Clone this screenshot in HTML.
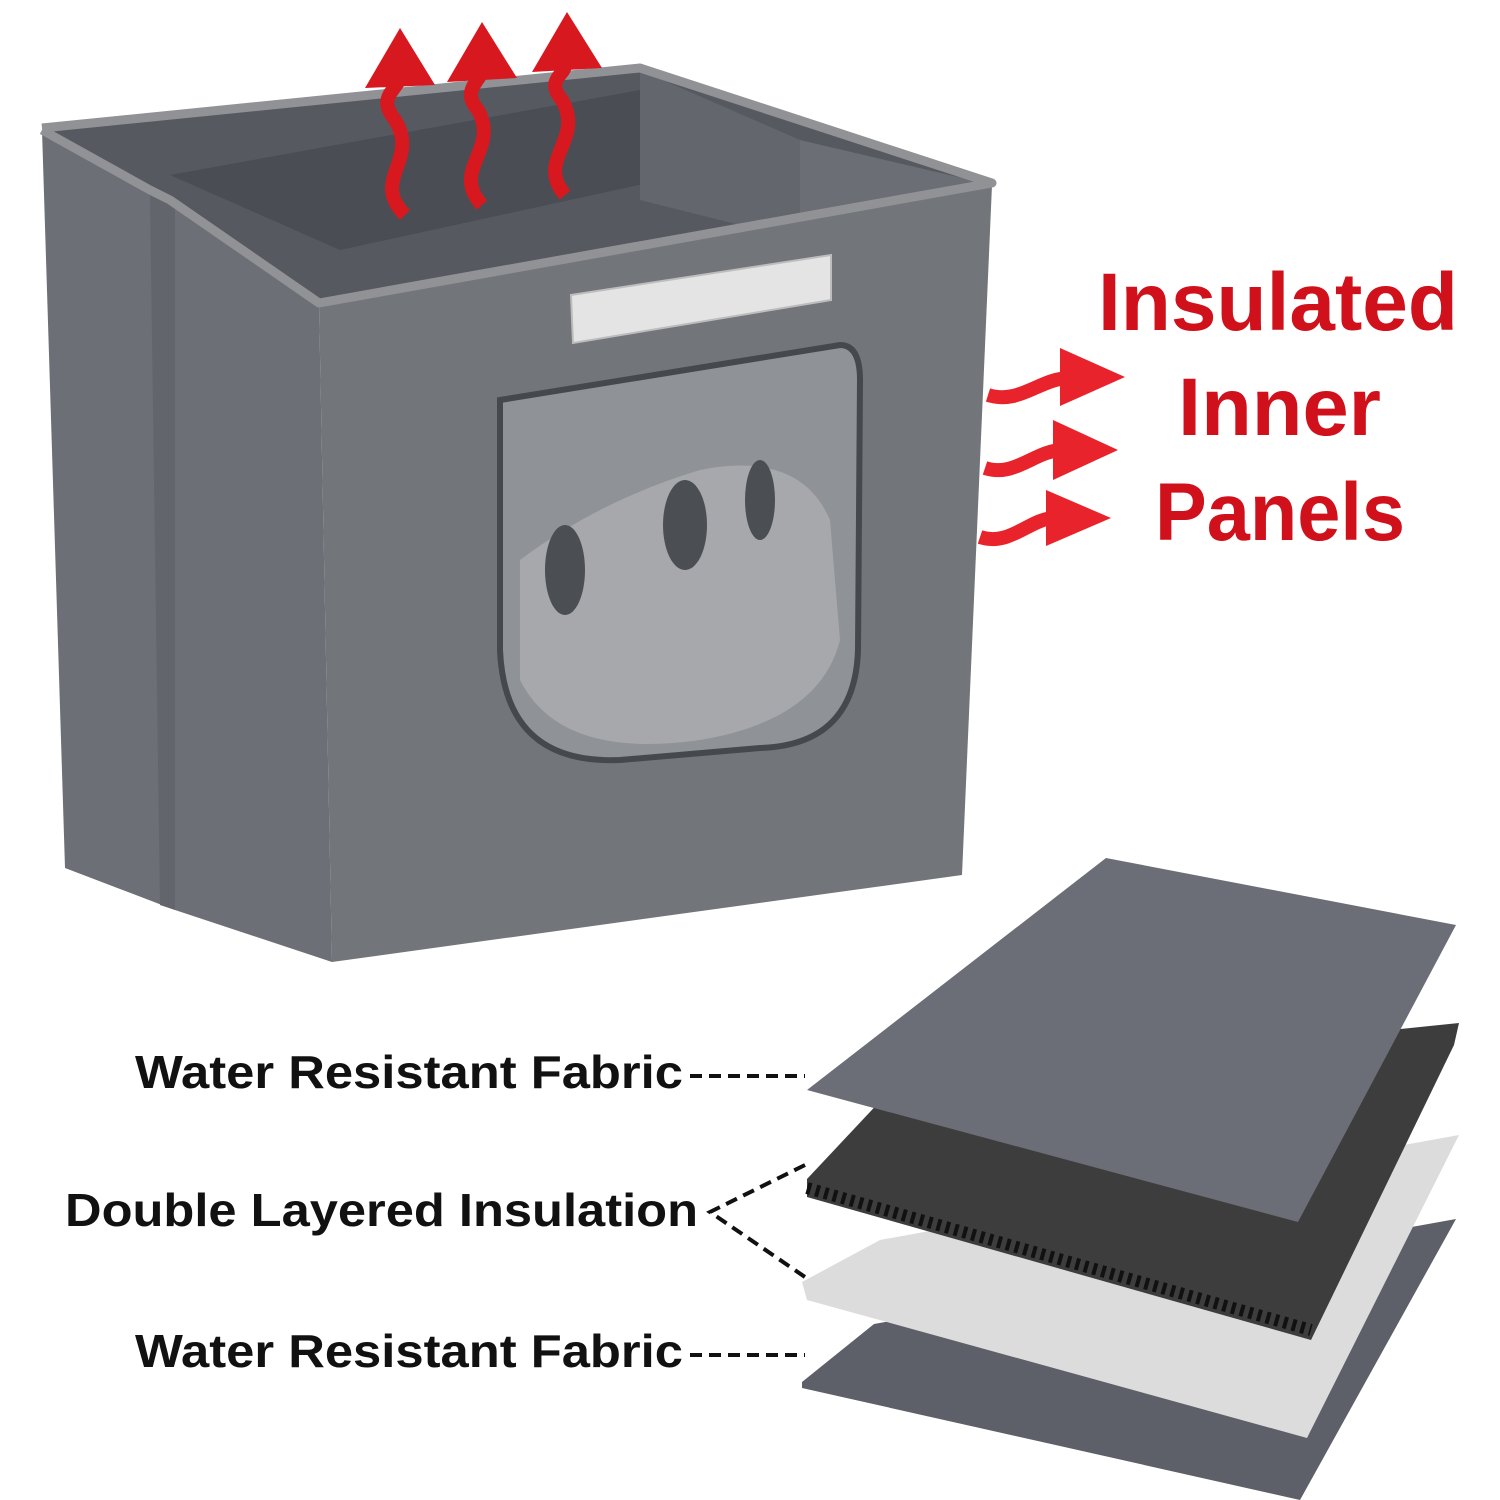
<!DOCTYPE html>
<html><head><meta charset="utf-8"><style>
html,body{margin:0;padding:0;background:#fff;width:1500px;height:1500px;overflow:hidden}
svg{display:block}
</style></head><body>
<svg width="1500" height="1500" viewBox="0 0 1500 1500" xmlns="http://www.w3.org/2000/svg">
<rect width="1500" height="1500" fill="#fff"/>
<!-- box interior -->
<polygon points="42,128 640,68 992,183 319,305" fill="#56595f"/>
<polygon points="170,175 640,90 800,150 340,250" fill="#4a4d53"/>
<polygon points="640,70 800,140 800,240 640,200" fill="#63666c"/>
<polygon points="800,140 992,185 900,230 800,240" fill="#6b6e74"/>
<!-- left face -->
<polygon points="42,130 150,195 170,205 319,305 332,962 175,910 65,868" fill="#6c6f75"/>
<polygon points="150,195 175,205 175,910 160,905" fill="#62656b"/>
<!-- front face -->
<polygon points="319,305 992,185 962,875 332,962" fill="#727579"/>
<!-- rim -->
<polyline points="42,128 640,68 992,183 319,303 170,200 150,190 42,130" fill="none" stroke="#909296" stroke-width="9" stroke-linejoin="round"/>
<!-- velcro -->
<polygon points="571,295 831,255 831,300 573,343" fill="#e4e4e4" stroke="#bdbdbd" stroke-width="2"/>
<!-- window -->
<path d="M500,400 L840,345 Q860,345 860,380 L858,650 Q855,745 760,748 L620,760 Q505,765 500,650 Z" fill="#8f9296" stroke="#45484d" stroke-width="6"/>
<path d="M520,560 Q600,500 700,470 Q800,450 830,520 L840,640 Q820,720 700,740 Q560,760 520,680 Z" fill="#a6a8ab"/>
<ellipse cx="565" cy="570" rx="20" ry="45" fill="#4b4e53"/>
<ellipse cx="685" cy="525" rx="22" ry="45" fill="#4b4e53"/>
<ellipse cx="760" cy="500" rx="15" ry="40" fill="#4b4e53"/>
<!-- up arrows -->
<g fill="none" stroke="#d7191f" stroke-width="14">
<path d="M405,215 C370,180 420,160 395,120 C375,95 400,90 400,75"/>
<path d="M482,205 C450,170 500,150 478,110 C460,90 482,80 482,70"/>
<path d="M565,195 C535,160 585,140 562,100 C545,80 565,75 565,65"/>
</g>
<g fill="#d7191f">
<polygon points="400,28 365,88 435,85"/>
<polygon points="482,22 447,82 517,78"/>
<polygon points="567,12 532,72 602,68"/>
</g>
<!-- right arrows -->
<g fill="none" stroke="#e8232b" stroke-width="14">
<path d="M988,395 C1020,405 1040,378 1070,378"/>
<path d="M985,468 C1015,478 1035,450 1063,450"/>
<path d="M980,537 C1010,547 1030,518 1055,518"/>
</g>
<g fill="#e8232b">
<polygon points="1060,348 1125,377 1060,406"/>
<polygon points="1053,420 1118,450 1053,480"/>
<polygon points="1046,490 1111,518 1046,546"/>
</g>
<g font-family="Liberation Sans, sans-serif" font-weight="bold" fill="#d0101a" font-size="82">
<text x="1098" y="330" textLength="360" lengthAdjust="spacingAndGlyphs">Insulated</text>
<text x="1178" y="435" textLength="203" lengthAdjust="spacingAndGlyphs">Inner</text>
<text x="1155" y="540" textLength="250" lengthAdjust="spacingAndGlyphs">Panels</text>
</g>
<!-- layers -->
<polygon points="802,1382 874,1324 1456,1219 1300,1500 802,1388" fill="#5d6068"/>
<polygon points="802,1282 880,1240 1459,1135 1307,1438 807,1300" fill="#dcdcdc"/>
<polygon points="807,1179 900,1080 1459,1023 1454,1045 1311,1340 807,1197" fill="#3d3d3d"/>
<line x1="807" y1="1188" x2="1311" y2="1330" stroke="#111" stroke-width="12" stroke-dasharray="4 5"/>
<polygon points="807,1090 1106,858 1456,925 1298,1222" fill="#6b6e76"/>
<!-- labels -->
<g font-family="Liberation Sans, sans-serif" font-weight="bold" fill="#111" font-size="46">
<text x="135" y="1088" textLength="548" lengthAdjust="spacingAndGlyphs">Water Resistant Fabric</text>
<text x="65" y="1226" textLength="633" lengthAdjust="spacingAndGlyphs">Double Layered Insulation</text>
<text x="135" y="1367" textLength="548" lengthAdjust="spacingAndGlyphs">Water Resistant Fabric</text>
</g>
<g stroke="#111" stroke-width="4" stroke-dasharray="12 7" fill="none">
<line x1="690" y1="1076" x2="805" y2="1076"/>
<polyline points="805,1165 710,1212 805,1277"/>
<line x1="690" y1="1355" x2="805" y2="1355"/>
</g>
</svg>
</body></html>
